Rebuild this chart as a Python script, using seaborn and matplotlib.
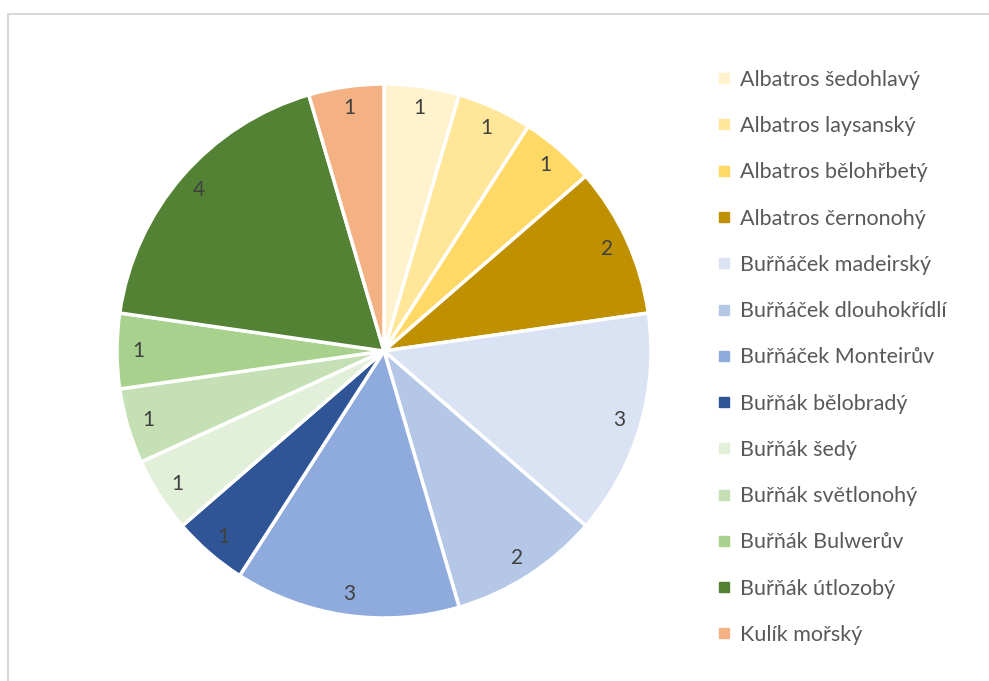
import matplotlib
matplotlib.use("Agg")
import matplotlib.pyplot as plt
from matplotlib.lines import Line2D
from matplotlib.patches import Rectangle
import seaborn as sns

species = [
    "Albatros šedohlavý", "Albatros laysanský", "Albatros bělohřbetý",
    "Albatros černonohý", "Buřňáček madeirský", "Buřňáček dlouhokřídlí",
    "Buřňáček Monteirův", "Buřňák bělobradý", "Buřňák šedý",
    "Buřňák světlonohý", "Buřňák Bulwerův", "Buřňák útlozobý", "Kulík mořský",
]
counts = [1, 1, 1, 2, 3, 2, 3, 1, 1, 1, 1, 4, 1]
colors = [
    "#FFF2CC", "#FFE699", "#FFD966", "#BF9000", "#DAE3F3", "#B4C7E7",
    "#8FAADC", "#2F5597", "#E2F0D9", "#C5E0B4", "#A9D18E", "#548235", "#F4B183",
]

sns.set_theme(style="white")
plt.rcParams['font.family'] = ['Lato', 'DejaVu Sans']

W, H = 989, 681
fig = plt.figure(figsize=(W / 100, H / 100), dpi=100)

# outer chart frame (cut off at right/bottom)
fig.patches.append(Rectangle((8 / W, -0.01), 1.0, (H - 14) / H + 0.01,
                             transform=fig.transFigure, fill=False,
                             edgecolor="#D9D9D9", linewidth=1.5))

cx, cy, r = 384, 351, 267
ax = fig.add_axes([(cx - r) / W, (H - cy - r) / H, 2 * r / W, 2 * r / H])
wedges, texts = ax.pie(
    counts, colors=colors, startangle=90, counterclock=False,
    labels=[str(c) for c in counts], labeldistance=0.92,
    wedgeprops=dict(edgecolor="white", linewidth=2.5),
    textprops=dict(color="#404040", fontsize=15),
)
for t in texts:
    t.set_horizontalalignment("center")
    t.set_verticalalignment("center")
ax.set_xlim(-1, 1)
ax.set_ylim(-1, 1)
ax.set_aspect("equal")
ax.axis("off")

handles = [Line2D([], [], marker="s", linestyle="none", markersize=6.5,
                  markerfacecolor=c, markeredgecolor=c) for c in colors]
leg = fig.legend(handles, species, loc="upper left",
                 bbox_to_anchor=(706 / W, 1 - 59 / H), frameon=False,
                 fontsize=15.5, labelcolor="#595959", handlelength=0.7,
                 handletextpad=0.4, labelspacing=1.22, borderpad=0)

fig.savefig("out.png", dpi=100)
